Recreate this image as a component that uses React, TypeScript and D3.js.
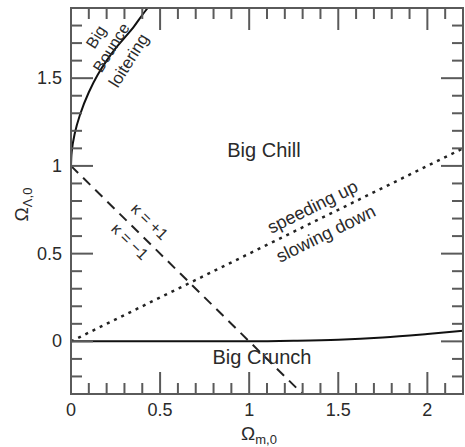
import React from "react";
import * as d3 from "d3";

// axis ranges and ticks
const xDomain = [0, 2.2];
const yDomain = [-0.3, 1.9];
const xMajor = [0, 0.5, 1, 1.5, 2];
const xMajorLabels = ["0", "0.5", "1", "1.5", "2"];
const yMajor = [0, 0.5, 1, 1.5];
const yMajorLabels = ["0", "0.5", "1", "1.5"];
const xMinor = [0.1, 0.2, 0.3, 0.4, 0.6, 0.7, 0.8, 0.9, 1.1, 1.2, 1.3, 1.4, 1.6, 1.7, 1.8, 1.9, 2.1];
const yMinor = [-0.2, -0.1, 0.1, 0.2, 0.3, 0.4, 0.6, 0.7, 0.8, 0.9, 1.1, 1.2, 1.3, 1.4, 1.6, 1.7, 1.8];

// curves [Ωm, ΩΛ]
const bounceCurve: [number, number][] = [
  [0, 1], [0.004, 1.08], [0.02, 1.18], [0.05, 1.29], [0.1, 1.42], [0.15, 1.52],
  [0.2, 1.6], [0.25, 1.67], [0.3, 1.73], [0.35, 1.79], [0.4, 1.86], [0.43, 1.9],
];
const crunchCurve: [number, number][] = [
  [0, 0], [1, 0], [1.25, 0.003], [1.5, 0.009], [1.75, 0.022], [2, 0.042], [2.2, 0.06],
];
const flatLine: [number, number][] = [[0, 1], [1.3, -0.3]];
const accelLine: [number, number][] = [[0, 0], [2.2, 1.1]];

const W = 465, H = 447;
const left = 71, right = 463, top = 8, bottom = 394;
const font = "'Liberation Sans', Arial, Helvetica, sans-serif";
const axisColor = "#5a5a5a";
const textColor = "#2a2a2a";

export default function App() {
  const x = d3.scaleLinear().domain(xDomain).range([left, right]);
  const y = d3.scaleLinear().domain(yDomain).range([bottom, top]);
  const line = d3.line<[number, number]>().x(d => x(d[0])).y(d => y(d[1]));
  const bounce = d3.line<[number, number]>().x(d => x(d[0])).y(d => y(d[1])).curve(d3.curveMonotoneY);
  const crunch = d3.line<[number, number]>().x(d => x(d[0])).y(d => y(d[1])).curve(d3.curveMonotoneX);

  const angleOf = (pts: [number, number][]) => {
    const [a, b] = [pts[0], pts[pts.length - 1]];
    return (Math.atan2(y(b[1]) - y(a[1]), x(b[0]) - x(a[0])) * 180) / Math.PI;
  };
  const accelAng = angleOf(accelLine);
  const flatAng = angleOf(flatLine);

  const minorLen = 11, majorLen = 22;

  const ticks: JSX.Element[] = [];
  xMinor.forEach((v, i) => {
    ticks.push(<line key={"xb" + i} x1={x(v)} x2={x(v)} y1={bottom} y2={bottom - minorLen} />);
    ticks.push(<line key={"xt" + i} x1={x(v)} x2={x(v)} y1={top} y2={top + minorLen} />);
  });
  xMajor.forEach((v, i) => {
    if (v === 0) return;
    ticks.push(<line key={"xB" + i} x1={x(v)} x2={x(v)} y1={bottom} y2={bottom - majorLen} />);
    ticks.push(<line key={"xT" + i} x1={x(v)} x2={x(v)} y1={top} y2={top + majorLen} />);
  });
  yMinor.forEach((v, i) => {
    ticks.push(<line key={"yl" + i} y1={y(v)} y2={y(v)} x1={left} x2={left + minorLen} />);
    ticks.push(<line key={"yr" + i} y1={y(v)} y2={y(v)} x1={right} x2={right - minorLen} />);
  });
  yMajor.forEach((v, i) => {
    ticks.push(<line key={"yL" + i} y1={y(v)} y2={y(v)} x1={left} x2={left + majorLen} />);
    ticks.push(<line key={"yR" + i} y1={y(v)} y2={y(v)} x1={right} x2={right - majorLen} />);
  });

  const rotLabel = (key: string, dx: number, dy: number, ang: number, txt: string, size: number) => (
    <text key={key} transform={`translate(${x(dx)},${y(dy)}) rotate(${ang})`} textAnchor="middle"
      dominantBaseline="central" fontSize={size}>{txt}</text>
  );

  return (
    <>
      <style>{`body{margin:0}`}</style>
      <svg width={W} height={H} style={{ display: "block", background: "#fff" }} fontFamily={font}>
        {/* curves */}
        <path d={bounce(bounceCurve) || ""} fill="none" stroke="#111" strokeWidth={2} />
        <path d={crunch(crunchCurve) || ""} fill="none" stroke="#111" strokeWidth={2} />
        <path d={line(flatLine) || ""} fill="none" stroke="#222" strokeWidth={2} strokeDasharray="10,7" />
        <path d={line(accelLine) || ""} fill="none" stroke="#222" strokeWidth={2.5} strokeDasharray="3,5" />

        {/* frame and ticks */}
        <g stroke={axisColor} strokeWidth={2}>
          {ticks}
        </g>
        <rect x={left} y={top} width={right - left} height={bottom - top} fill="none" stroke={axisColor} strokeWidth={2} />

        {/* tick labels */}
        <g fill={textColor} fontSize={18}>
          {xMajor.map((v, i) => (
            <text key={"xl" + i} x={x(v)} y={bottom + 22} textAnchor="middle">{xMajorLabels[i]}</text>
          ))}
          {yMajor.map((v, i) => (
            <text key={"yl" + i} x={left - 9} y={y(v)} textAnchor="end" dominantBaseline="central">{yMajorLabels[i]}</text>
          ))}
        </g>

        {/* axis titles */}
        <text x={(left + right) / 2 - 8} y={440} textAnchor="middle" fill={textColor} fontSize={19}>
          Ω<tspan fontSize={13} dy={4}>m,0</tspan>
        </text>
        <text transform={`translate(28,${y(0.78)}) rotate(-90)`} textAnchor="middle" fill={textColor} fontSize={19}>
          Ω<tspan fontSize={13} dy={4}>Λ,0</tspan>
        </text>

        {/* region labels */}
        <g fill={textColor}>
          <text x={x(1.083)} y={y(1.09)} textAnchor="middle" dominantBaseline="central" fontSize={20}>Big Chill</text>
          <text x={x(1.072)} y={y(-0.09)} textAnchor="middle" dominantBaseline="central" fontSize={20}>Big Crunch</text>
          {rotLabel("big", 0.14, 1.735, -58, "Big", 16)}
          {rotLabel("bounce", 0.225, 1.675, -58, "Bounce", 16)}
          {rotLabel("loiter", 0.325, 1.6, -58, "loitering", 17)}
          <g transform={`translate(${x(1.39)},${y(0.695)}) rotate(${accelAng})`} fontSize={18} textAnchor="middle">
            <text y={-8}>speeding up</text>
            <text y={22}>slowing down</text>
          </g>
          <g transform={`translate(${x(0.38)},${y(0.62)}) rotate(${flatAng})`} fontSize={16} textAnchor="middle">
            <text y={-10}>κ = +1</text>
            <text y={18}>κ = −1</text>
          </g>
        </g>
      </svg>
    </>
  );
}
